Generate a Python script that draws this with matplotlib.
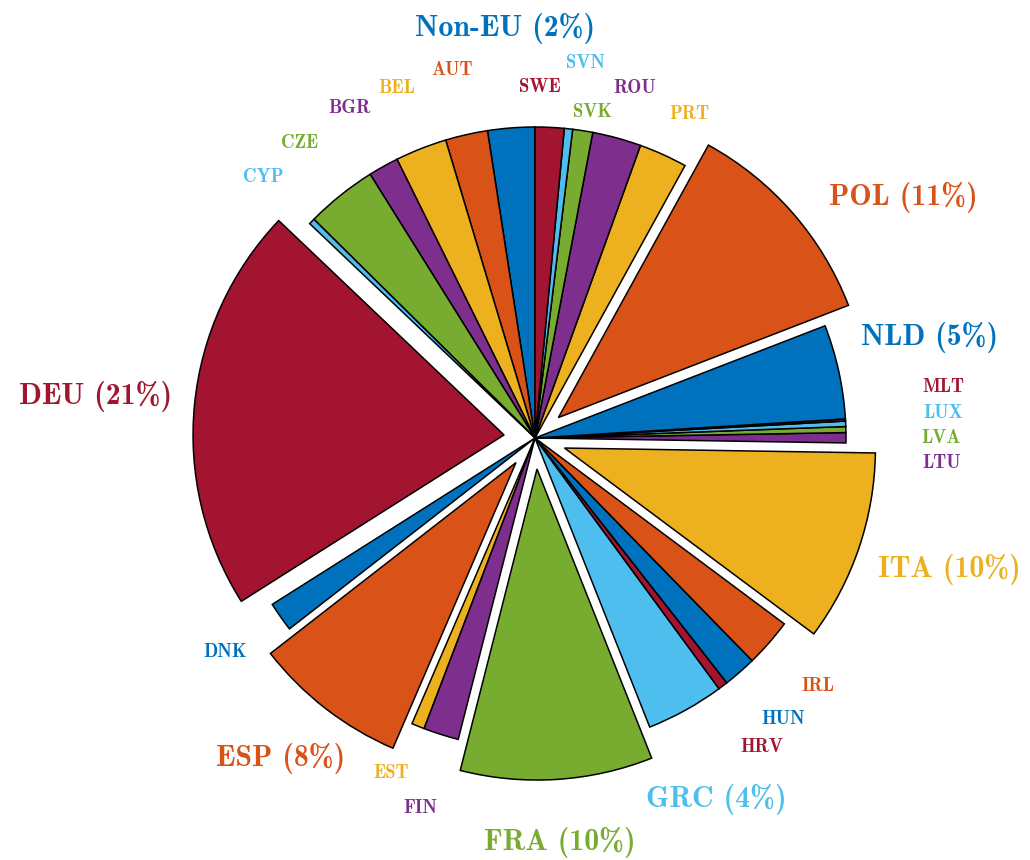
"""Pie of shares by member state, with the big ones pulled out."""

import matplotlib.pyplot as plt

OUTPUT_FILENAME = "out.png"
FONT = "cmb10"
BIG_SIZE = 21.5
SMALL_SIZE = 13.5

# MATLAB default colour order, cycled over the slices
PALETTE = ["#0072BD", "#D95319", "#EDB120", "#7E2F8E", "#77AC30", "#4DBEEE", "#A2142F"]

countries = ["Non-EU", "AUT", "BEL", "BGR", "CZE", "CYP", "DEU", "DNK", "ESP", "EST",
             "FIN", "FRA", "GRC", "HRV", "HUN", "IRL", "ITA", "LTU", "LVA", "LUX",
             "MLT", "NLD", "POL", "PRT", "ROU", "SVK", "SVN", "SWE"]
shares = [2.44, 2.19, 2.68, 1.57, 3.69, 0.31, 21.06, 1.53, 8.00, 0.67,
          1.83, 9.97, 4.06, 0.50, 1.72, 2.50, 9.93, 0.53, 0.31, 0.28,
          0.11, 4.89, 11.10, 2.50, 2.53, 1.04, 0.43, 1.50]

# where each label sits, in units of the pie radius
label_xy = {
    "Non-EU": (-0.096, 1.318), "SVN": (0.161, 1.206), "AUT": (-0.267, 1.183),
    "SWE": (0.016, 1.129), "ROU": (0.322, 1.125), "BEL": (-0.444, 1.125),
    "BGR": (-0.595, 1.061), "SVK": (0.186, 1.048), "PRT": (0.498, 1.042),
    "CZE": (-0.756, 0.949), "CYP": (-0.875, 0.839), "POL": (1.183, 0.772),
    "NLD": (1.270, 0.322), "MLT": (1.312, 0.164), "LUX": (1.312, 0.080),
    "LVA": (1.305, 0.0), "LTU": (1.309, -0.080), "DEU": (-1.412, 0.132),
    "ITA": (1.334, -0.424), "DNK": (-0.997, -0.688), "IRL": (0.910, -0.797),
    "HUN": (0.797, -0.904), "HRV": (0.730, -0.994), "ESP": (-0.817, -1.029),
    "EST": (-0.463, -1.077), "GRC": (0.582, -1.161), "FIN": (-0.370, -1.190),
    "FRA": (0.080, -1.302),
}

colors = [PALETTE[i % len(PALETTE)] for i in range(len(countries))]
explode = [0.1 if s >= 8 else 0 for s in shares]

fig = plt.figure(figsize=(10.3, 8.6), dpi=100)
ax = fig.add_axes([0, 0, 1, 1])

ax.pie(shares, colors=colors, explode=explode, startangle=90, counterclock=True,
       radius=1, wedgeprops=dict(edgecolor="black", linewidth=1.1))

for name, share, color in zip(countries, shares, colors):
    big = share >= 4 or name == "Non-EU"
    text = f"{name} ({round(share)}%)" if big else name
    x, y = label_xy[name]
    ax.text(x, y, text, color=color, fontfamily=FONT,
            fontsize=BIG_SIZE if big else SMALL_SIZE, ha="center", va="center")

# one unit = pie radius = 311 px, centre at (535, 438) from top-left
ax.set_xlim(-535 / 311, 495 / 311)
ax.set_ylim(-422 / 311, 438 / 311)
ax.set_aspect("equal")
ax.axis("off")

fig.savefig(OUTPUT_FILENAME)
